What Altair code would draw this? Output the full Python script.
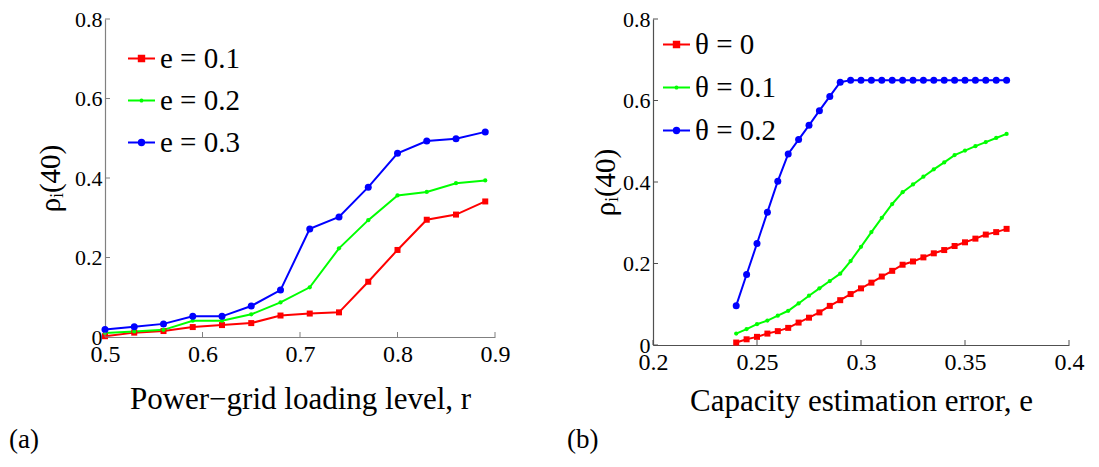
import altair as alt
import pandas as pd

# ---------------- data ----------------
r_vals = [0.50, 0.53, 0.56, 0.59, 0.62, 0.65, 0.68, 0.71, 0.74, 0.77, 0.80, 0.83, 0.86, 0.89]
rho_e01 = [0.002, 0.011, 0.015, 0.025, 0.030, 0.035, 0.054, 0.059, 0.062, 0.139, 0.219, 0.295, 0.308, 0.341]
rho_e02 = [0.010, 0.014, 0.018, 0.041, 0.041, 0.057, 0.087, 0.125, 0.223, 0.294, 0.356, 0.365, 0.387, 0.394]
rho_e03 = [0.019, 0.026, 0.033, 0.052, 0.052, 0.078, 0.118, 0.272, 0.302, 0.377, 0.462, 0.493, 0.499, 0.516]

e_vals = [0.240, 0.245, 0.250, 0.255, 0.260, 0.265, 0.270, 0.275, 0.280, 0.285, 0.290,
          0.295, 0.300, 0.305, 0.310, 0.315, 0.320, 0.325, 0.330, 0.335, 0.340,
          0.345, 0.350, 0.355, 0.360, 0.365, 0.370]
rho_t00 = [0.006, 0.014, 0.020, 0.028, 0.034, 0.042, 0.055, 0.067, 0.080, 0.096, 0.110,
           0.125, 0.139, 0.153, 0.168, 0.182, 0.197, 0.205, 0.215, 0.225, 0.233,
           0.243, 0.252, 0.261, 0.271, 0.277, 0.285]
rho_t01 = [0.028, 0.039, 0.051, 0.060, 0.072, 0.084, 0.102, 0.121, 0.139, 0.157, 0.175,
           0.206, 0.241, 0.277, 0.312, 0.346, 0.375, 0.394, 0.413, 0.431, 0.448,
           0.466, 0.477, 0.488, 0.498, 0.508, 0.518]
rho_t02 = [0.0965, 0.173, 0.249, 0.326, 0.402, 0.469, 0.504, 0.539, 0.575, 0.610, 0.645,
           0.650, 0.650, 0.650, 0.650, 0.650, 0.650, 0.650, 0.650, 0.650, 0.650,
           0.650, 0.650, 0.650, 0.650, 0.650, 0.650]

left_series = ["e = 0.1", "e = 0.2", "e = 0.3"]
right_series = ["θ = 0", "θ = 0.1", "θ = 0.2"]
colors = ["#ff0000", "#00ff00", "#0000ff"]
markers = ["square", "circle", "circle"]
marker_sizes = [36, 18, 49]

left_xticks = [0.5, 0.6, 0.7, 0.8, 0.9]
right_xticks = [0.2, 0.25, 0.3, 0.35, 0.4]
yticks = [0, 0.2, 0.4, 0.6, 0.8]

FONT = "'Liberation Serif', 'Times New Roman', 'DejaVu Serif', serif"


def long_df(xs, ys_list, names):
    rows = []
    for i, (ys, nm) in enumerate(zip(ys_list, names)):
        for x, y in zip(xs, ys):
            rows.append({"x": x, "y": y, "series": nm})
    return pd.DataFrame(rows)


left_df = long_df(r_vals, [rho_e01, rho_e02, rho_e03], left_series)
right_df = long_df(e_vals, [rho_t00, rho_t01, rho_t02], right_series)

# legend symbols: short line with the series marker in its middle (stroked)
P_SQ = "M-1,0H1M-0.2,-0.2H0.2V0.2H-0.2ZM-0.07,-0.07H0.07V0.07H-0.07Z"
P_DOT = "M-1,0H1M-0.08,0A0.08,0.08,0,1,0,0.08,0A0.08,0.08,0,1,0,-0.08,0Z"
P_CIR = ("M-1,0H1M-0.2,0A0.2,0.2,0,1,0,0.2,0A0.2,0.2,0,1,0,-0.2,0Z"
         "M-0.07,0A0.07,0.07,0,1,0,0.07,0A0.07,0.07,0,1,0,-0.07,0Z")
legend_paths = [P_SQ, P_DOT, P_CIR]


def panel(df, series, xdom, xticks, W, H, xtitle, ytitle_x, xtitle_y,
          leg_x, leg_y, row_pad, tag, tag_x, tag_y, axis_color):
    xs = alt.Scale(domain=xdom, nice=False, zero=False)
    ys = alt.Scale(domain=[0, 0.8], nice=False)
    cscale = alt.Scale(domain=series, range=colors)
    legend = alt.Legend(
        orient="none", legendX=leg_x, legendY=leg_y, title=None,
        labelFont=FONT, labelFontSize=29, labelColor="black", labelOffset=4,
        rowPadding=row_pad, padding=0, symbolSize=729, symbolStrokeWidth=2,
        symbolOpacity=1, symbolFillColor="transparent", direction="vertical",
    )
    xaxis = alt.Axis(values=xticks, format="~g", title=xtitle, ticks=False, grid=False,
                     domainColor=axis_color, domainWidth=1.2,
                     labelFont=FONT, labelFontSize=24, labelColor="black", labelPadding=5,
                     labelOverlap=False, labelFlush=False,
                     titleFont=FONT, titleFontSize=31, titleFontWeight="normal", titleColor="black",
                     titleX=W / 2, titleY=xtitle_y, titleBaseline="alphabetic", titleAlign="center")
    yaxis = alt.Axis(values=yticks, format="~g", title="ρᵢ(40)", ticks=False, grid=False,
                     domainColor=axis_color, domainWidth=1.2,
                     labelFont=FONT, labelFontSize=22, labelColor="black", labelPadding=3,
                     labelOverlap=False, labelFlush=False,
                     titleFont=FONT, titleFontSize=29, titleFontWeight="normal", titleColor="black",
                     titleX=ytitle_x, titleY=H / 2, titleAngle=270,
                     titleBaseline="middle", titleAlign="center")
    X = alt.X("x:Q", scale=xs, axis=xaxis)
    Y = alt.Y("y:Q", scale=ys, axis=yaxis)
    C = alt.Color("series:N", scale=cscale, legend=legend)
    base = alt.Chart(df)
    line = base.mark_line(strokeWidth=2).encode(x=X, y=Y, color=C, order="x:Q")
    layers = [line]
    for i, nm in enumerate(series):
        layers.append(
            base.transform_filter(alt.datum.series == nm)
            .mark_point(filled=True, opacity=1, strokeWidth=0,
                        shape=markers[i], size=marker_sizes[i])
            .encode(x=X, y=Y, color=C)
        )
    leg = base.transform_filter("false").mark_point(filled=False, strokeWidth=2, opacity=1).encode(
        x=X, y=Y, color=C,
        shape=alt.Shape("series:N", scale=alt.Scale(domain=series, range=legend_paths), legend=legend),
    )
    layers.append(leg)
    xt = alt.Chart(pd.DataFrame({"x": xticks})).mark_rule(color=axis_color, strokeWidth=1).encode(
        x=X, y=alt.value(H), y2=alt.value(H - 5))
    yt = alt.Chart(pd.DataFrame({"y": yticks})).mark_rule(color=axis_color, strokeWidth=1).encode(
        y=Y, x=alt.value(0), x2=alt.value(5))
    lab = alt.Chart(pd.DataFrame({"t": [tag]})).mark_text(
        align="left", baseline="middle", font=FONT, fontSize=27, color="black").encode(
        text="t:N", x=alt.value(tag_x), y=alt.value(tag_y))
    layers += [xt, yt, lab]
    return alt.layer(*layers).properties(width=W, height=H)


left = panel(left_df, left_series, [0.5, 0.9], left_xticks, 390, 318,
             "Power−grid loading level, r", -55, 71, 22, 25, 12,
             "(a)", -96, 421, "#808080")
right = panel(right_df, right_series, [0.2, 0.4], right_xticks, 416, 326,
              "Capacity estimation error, e", -48, 65, 9, 11, 13,
              "(b)", -86, 421, "#505050")

chart = alt.hconcat(left, right, spacing=57).resolve_scale(
    color="independent", shape="independent", x="independent", y="independent"
).resolve_legend(color="independent", shape="independent").properties(
    padding={"left": 1, "top": 0, "right": 5, "bottom": 2}
).configure_view(stroke=None)

chart.save("out.html", embed_options={"renderer": "svg", "actions": False})
